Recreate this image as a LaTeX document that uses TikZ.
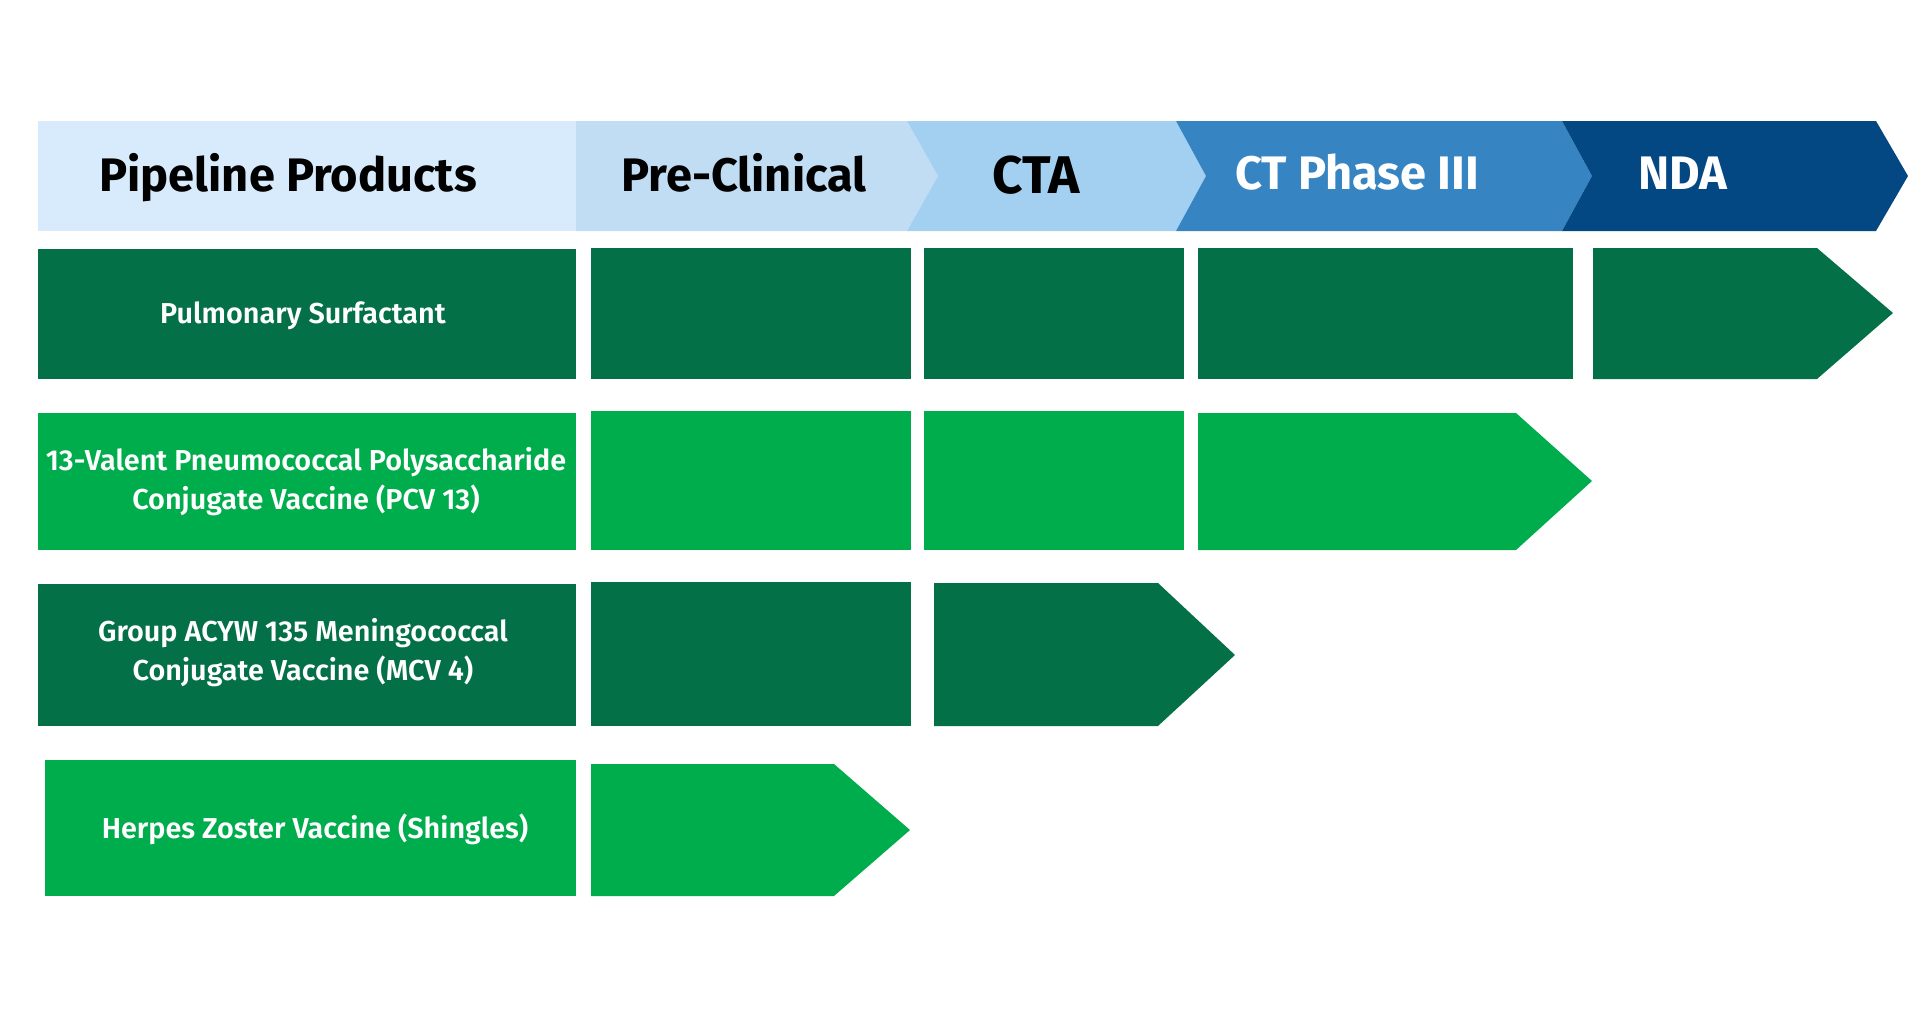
\documentclass[tikz,border=0pt]{standalone}
\usepackage{fontspec}
\setmainfont{Fira Sans}[UprightFont={* SemiBold},BoldFont={* Bold}]
\definecolor{hdrA}{HTML}{D7EBFC}
\definecolor{hdrB}{HTML}{C0DDF3}
\definecolor{hdrC}{HTML}{A3CFF0}
\definecolor{hdrD}{HTML}{3784C2}
\definecolor{hdrE}{HTML}{034883}
\definecolor{dkgreen}{HTML}{037047}
\definecolor{ltgreen}{HTML}{00AD4D}
\tikzset{
  hdrtext/.style={font=\fontsize{47}{56}\selectfont\bfseries, anchor=base, inner sep=0pt},
  rowtext/.style={font=\fontsize{28.8}{39}\selectfont, text=white, align=center, anchor=center, inner sep=0pt},
}
\begin{document}
\begin{tikzpicture}[x=1pt,y=-1pt]
\useasboundingbox (0,0) rectangle (1920,1033);
% header chevrons
\fill[hdrA] (38,121) rectangle (576,231);
\fill[hdrB] (576,121) -- (907,121) -- (938,176) -- (907,231) -- (576,231) -- cycle;
\fill[hdrC] (907,121) -- (1176,121) -- (1206,176) -- (1176,231) -- (907,231) -- (938,176) -- cycle;
\fill[hdrD] (1176,121) -- (1562,121) -- (1592,176) -- (1562,231) -- (1176,231) -- (1206,176) -- cycle;
\fill[hdrE] (1562,121) -- (1876,121) -- (1908,176) -- (1876,231) -- (1562,231) -- (1592,176) -- cycle;
\node[hdrtext, text=black] (hpipe) at (288,191) {Pipeline Products};
\node[hdrtext, text=black] (hpre) at (744,191) {Pre-Clinical};
\node[hdrtext, text=black, font=\fontsize{53}{60}\selectfont\bfseries] (hcta) at (1036,193) {CTA};
\node[hdrtext, text=white] (hct) at (1357,189) {CT Phase III};
\node[hdrtext, text=white] (hnda) at (1683,189) {NDA};
% row 1
\fill[dkgreen] (38,249) rectangle (576,379);
\fill[dkgreen] (591,248) rectangle (911,379);
\fill[dkgreen] (924,248) rectangle (1184,379);
\fill[dkgreen] (1198,248) rectangle (1573,379);
\fill[dkgreen] (1593,248) -- (1817,248) -- (1893,313) -- (1817,379) -- (1593,379) -- cycle;
\node[rowtext] (r1) at (303,316) {Pulmonary Surfactant};
% row 2
\fill[ltgreen] (38,413) rectangle (576,550);
\fill[ltgreen] (591,411) rectangle (911,550);
\fill[ltgreen] (924,411) rectangle (1184,550);
\fill[ltgreen] (1198,413) -- (1516,413) -- (1592,481) -- (1516,550) -- (1198,550) -- cycle;
\node[rowtext] (r2) at (306,481.5) {13-Valent Pneumococcal Polysaccharide\\Conjugate Vaccine (PCV 13)};
% row 3
\fill[dkgreen] (38,584) rectangle (576,726);
\fill[dkgreen] (591,582) rectangle (911,726);
\fill[dkgreen] (934,583) -- (1158,583) -- (1235,655) -- (1158,726) -- (934,726) -- cycle;
\node[rowtext] (r3) at (303,653) {Group ACYW 135 Meningococcal\\Conjugate Vaccine (MCV 4)};
% row 4
\fill[ltgreen] (45,760) rectangle (576,896);
\fill[ltgreen] (591,764) -- (834,764) -- (910,830) -- (834,896) -- (591,896) -- cycle;
\node[rowtext] (r4) at (315,829) {Herpes Zoster Vaccine (Shingles)};
\end{tikzpicture}
\end{document}
